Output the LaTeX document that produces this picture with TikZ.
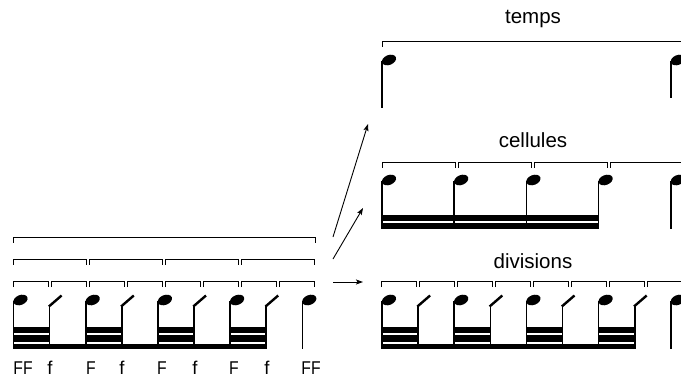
\documentclass[tikz,border=0pt]{standalone}
\usepackage{fontspec}
\setmainfont{Liberation Sans}
\usetikzlibrary{arrows.meta}
\newcommand\qnote[3]{%
  \fill[shift={(#1+7,#2)}, rotate=22] (0,0) ellipse [x radius=7.4pt, y radius=4.9pt];
  \draw[stemline] (#1,#2+1) -- (#1,#3);}
\newcommand\snote[3]{%
  \draw[slashline] (#1-0.7,#2+6.5) -- (#1+12,#2-4.5);
  \draw[stemline] (#1,#2+6) -- (#1,#3);}
\newcommand\brkt[3]{\draw[brkline] (#1,#3+5.5) -- (#1,#3) -- (#2,#3) -- (#2,#3+5.5);}
\newcommand\divpattern[1]{%
  \foreach \k in {0,...,8} {%
    \pgfmathsetmacro\xx{#1+13.5+36.1*\k}%
    \ifodd\k\relax \snote{\xx}{300}{349.3}\else \qnote{\xx}{300}{349.3}\fi
  }%
  \fill (#1+12.75,344.3) rectangle (#1+13.5+36.1*7+0.75,349.3);
  \foreach \j in {0,...,3} {%
    \pgfmathsetmacro\xa{#1+13.5+72.2*\j-0.75}%
    \pgfmathsetmacro\xb{#1+13.5+72.2*\j+36.1+0.75}%
    \fill (\xa,326.7) rectangle (\xb,332.7);
    \fill (\xa,335.0) rectangle (\xb,341.6);
  }%
  \foreach \k in {0,...,7} {%
    \pgfmathsetmacro\xa{#1+13+38*\k}%
    \pgfmathsetmacro\xb{#1+48+38*\k}%
    \brkt{\xa}{\xb}{281.5}
  }%
}
\begin{document}
\begin{tikzpicture}[x=1pt,y=-1pt,
  stemline/.style={line width=1.6pt},
  slashline/.style={line width=2.4pt},
  brkline/.style={line width=1pt},
  title/.style={font=\fontsize{20.5}{22}\selectfont, anchor=base, inner sep=0pt},
  dyn/.style={font=\fontsize{18.5}{20}\selectfont, anchor=base, inner sep=0pt},
  arr/.style={-{Stealth[length=7pt,width=5pt,inset=1.5pt]}, line width=0.9pt}]
\useasboundingbox (0,0) rectangle (681,378);
\clip (0,0) rectangle (681,378);

% ---------- left system ----------
\divpattern{0}
\brkt{13}{315}{237}
\foreach \k in {0,...,3} {%
  \pgfmathsetmacro\xa{13+76*\k}%
  \pgfmathsetmacro\xb{86+76*\k}%
  \brkt{\xa}{\xb}{259}
}
\node[dyn] (l1) at (23,374) {\scalebox{0.85}[1]{FF}};
\node[dyn] (l2) at (50,374) {f};
\node[dyn] (l3) at (91,374) {\scalebox{0.85}[1]{F}};
\node[dyn] (l4) at (122,374) {f};
\node[dyn] (l5) at (162,374) {\scalebox{0.85}[1]{F}};
\node[dyn] (l6) at (195,374) {f};
\node[dyn] (l7) at (234,374) {\scalebox{0.85}[1]{F}};
\node[dyn] (l8) at (267,374) {f};
\node[dyn] (l9) at (311,374) {\scalebox{0.85}[1]{FF}};

% ---------- right: divisions ----------
\divpattern{368.5}
\node[title] (tdiv) at (533,268) {divisions};

% ---------- right: cellules ----------
\foreach \k in {0,...,4} {%
  \pgfmathsetmacro\xx{382+72.2*\k}%
  \qnote{\xx}{180}{228.5}
}
\fill (381.2,215) rectangle (599.4,220.5);
\fill (381.2,222.7) rectangle (599.4,228.5);
\foreach \k in {0,...,3} {%
  \pgfmathsetmacro\xa{382+76*\k}%
  \pgfmathsetmacro\xb{455+76*\k}%
  \brkt{\xa}{\xb}{162}
}
\node[title] (tcel) at (533,147) {cellules};

% ---------- right: temps ----------
\qnote{382}{60}{108}
\qnote{670.8}{60}{98}
\brkt{382}{684}{41}
\node[title] (ttmp) at (533,23) {temps};

% ---------- arrows ----------
\coordinate (a1s) at (333,237);
\coordinate (a1e) at (368,124);
\coordinate (a2s) at (333,259);
\coordinate (a2e) at (363,208);
\coordinate (a3s) at (333,282);
\coordinate (a3e) at (363,282);
\draw[arr] (a1s) -- (a1e);
\draw[arr] (a2s) -- (a2e);
\draw[arr] (a3s) -- (a3e);
\end{tikzpicture}
\end{document}
